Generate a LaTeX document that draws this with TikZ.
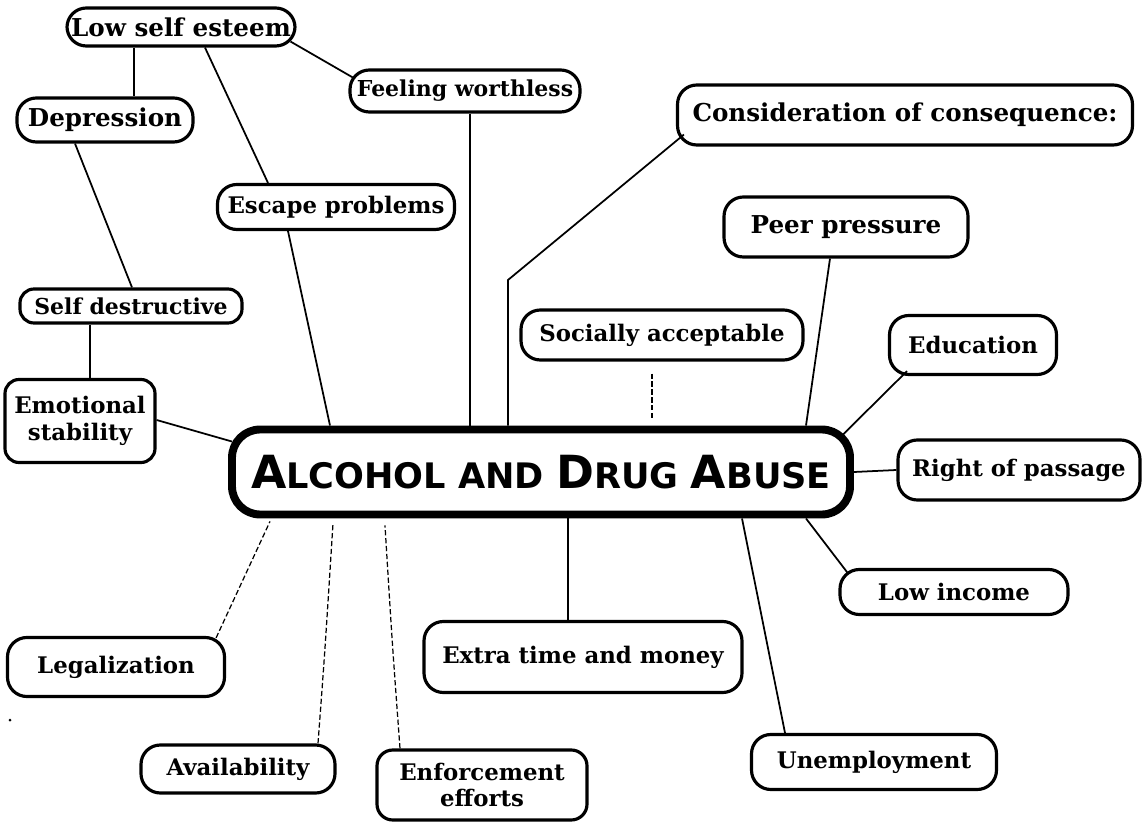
\documentclass[tikz,border=0pt]{standalone}
\usepackage{fontspec}
\setmainfont{DejaVu Serif}
\newfontfamily\titlefont{DejaVu Sans}
\begin{document}
\begin{tikzpicture}[x=0.02cm,y=-0.02cm,
  box/.style={draw, line width=1.8pt, rounded corners=11pt, align=center,
    font=\fontsize{13}{15}\selectfont\bfseries, inner sep=1pt},
  big/.style={font=\fontsize{14}{15}\selectfont\bfseries},
  small/.style={font=\fontsize{12.5}{14}\selectfont\bfseries},
  link/.style={line width=1pt},
  dlink/.style={line width=0.7pt, dash pattern=on 3pt off 1.5pt},
  hub/.style={draw, line width=4.5pt, rounded corners=16pt, inner sep=1pt}]
\useasboundingbox (0,0) rectangle (1143,827);

\node[box, big, minimum width=228*0.02cm, minimum height=38*0.02cm] (low) at (181,27) {Low self esteem};
\node[box, small, minimum width=230*0.02cm, minimum height=42*0.02cm] (worth) at (465,91) {Feeling worthless};
\node[box, big, minimum width=176*0.02cm, minimum height=44*0.02cm] (dep) at (105,120) {Depression};
\node[box, big, minimum width=455*0.02cm, minimum height=60*0.02cm] (cons) at (905,115) {Consideration of consequence:};
\node[box, minimum width=237*0.02cm, minimum height=45*0.02cm] (esc) at (336,207) {Escape problems};
\node[box, big, minimum width=244*0.02cm, minimum height=60*0.02cm] (peer) at (846,227) {Peer pressure};
\node[box, minimum width=282*0.02cm, minimum height=50*0.02cm] (soc) at (662,335) {Socially acceptable};
\node[box, minimum width=167*0.02cm, minimum height=59*0.02cm] (edu) at (973,345) {Education};
\node[box, small, rounded corners=8pt, minimum width=222*0.02cm, minimum height=34*0.02cm] (selfd) at (131,306) {Self destructive};
\node[box, rounded corners=8pt, minimum width=150*0.02cm, minimum height=83*0.02cm] (emo) at (80,421) {Emotional\\stability};
\node[hub, minimum width=618*0.02cm, minimum height=85*0.02cm] (hubnode) at (541,472)
  {\titlefont\bfseries\fontsize{26}{26}\selectfont A\fontsize{20}{20}\selectfont LCOHOL AND \fontsize{26}{26}\selectfont D\fontsize{20}{20}\selectfont RUG \fontsize{26}{26}\selectfont A\fontsize{20}{20}\selectfont BUSE};
\node[box, minimum width=242*0.02cm, minimum height=60*0.02cm] (rop) at (1019,470) {Right of passage};
\node[box, minimum width=228*0.02cm, minimum height=45*0.02cm] (lowinc) at (954,592) {Low income};
\node[box, minimum width=318*0.02cm, minimum height=71*0.02cm] (extra) at (583,657) {Extra time and money};
\node[box, minimum width=217*0.02cm, minimum height=59*0.02cm] (legal) at (116,667) {Legalization};
\node[box, minimum width=194*0.02cm, minimum height=48*0.02cm] (avail) at (238,769) {Availability};
\node[box, rounded corners=9pt, minimum width=210*0.02cm, minimum height=70*0.02cm] (enf) at (482,785) {Enforcement\\efforts};
\node[box, minimum width=245*0.02cm, minimum height=55*0.02cm] (unemp) at (874,762) {Unemployment};

% solid connectors
\draw[link] (low.south -| 134,0) -- (dep.north -| 134,0);
\draw[link] (low.south -| 205,0) -- (esc.north -| 268,0);
\draw[link] ([shift={(-6,-6)}]low.south east) -- ([shift={(6,10)}]worth.north west);
\draw[link] (worth.south -| 470,0) -- (hubnode.north -| 470,0);
\draw[link] (dep.south -| 75,0) -- (selfd.north -| 132,0);
\draw[link] (selfd.south -| 90,0) -- (emo.north -| 90,0);
\draw[link] (emo.east |- 0,420) -- ([shift={(4,16)}]hubnode.north west);
\draw[link] (esc.south -| 288,0) -- (hubnode.north -| 330,0);
\coordinate (bend) at (508,280);
\draw[link] ([shift={(8,-12)}]cons.south west) -- (bend) -- (bend |- hubnode.north);
\draw[link] (peer.south -| 830,0) -- (hubnode.north -| 806,0);
\draw[link] ([shift={(-66,-5)}]edu.south) -- ([shift={(-12,10)}]hubnode.north east);
\draw[link] (hubnode.east) -- (rop.west);
\draw[link] ([shift={(10,6)}]lowinc.north west) -- (hubnode.south -| 806,0);
\draw[link] (unemp.north -| 785,0) -- (hubnode.south -| 742,0);
\draw[link] (hubnode.south -| 568,0) -- (extra.north -| 568,0);

% dashed connectors
\draw[dlink] ([shift={(0,12)}]soc.south -| 652,0) -- ([shift={(0,-8)}]hubnode.north -| 652,0);
\draw[dlink] ([shift={(-10,2)}]legal.north east) -- ([shift={(0,3)}]hubnode.south -| 270,0);
\draw[dlink] (avail.north -| 318,0) .. controls (325,650) .. ([shift={(0,5)}]hubnode.south -| 333,0);
\draw[dlink] (enf.north -| 400,0) .. controls (392,640) .. ([shift={(0,7)}]hubnode.south -| 385,0);

\fill (10,720) circle (1.5);
\end{tikzpicture}
\end{document}
